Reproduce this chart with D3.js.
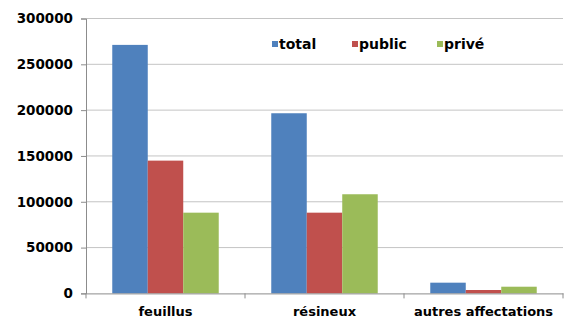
<!DOCTYPE html>
<html>
<head>
<meta charset="utf-8">
<script src="https://cdn.jsdelivr.net/npm/d3@7"></script>
<style>
  body { margin: 0; background: #fff; }
  text { font-family: "DejaVu Sans", sans-serif; font-weight: bold; fill: #000; }
</style>
</head>
<body>
<div id="chart"></div>
<script>
const categories = ["feuillus", "résineux", "autres affectations"];
const seriesNames = ["total", "public", "privé"];
const total = [271200, 196600, 11700];
const publicVals = [144900, 88100, 3700];
const prive = [88100, 108200, 7300];
const yTicks = [0, 50000, 100000, 150000, 200000, 250000, 300000];
const colors = ["#4F81BD", "#C0504D", "#9BBB59"];

const width = 566, height = 318;
const margin = { top: 18.5, right: 3, bottom: 24.6, left: 86 };

const svg = d3.select("#chart").append("svg")
  .attr("width", width)
  .attr("height", height);

const x = d3.scaleBand()
  .domain(categories)
  .range([margin.left, width - margin.right])
  .paddingInner(0).paddingOuter(0);

const xs = d3.scaleBand()
  .domain(seriesNames)
  .range([0, x.bandwidth()])
  .paddingInner(0).paddingOuter(0.74);

const y = d3.scaleLinear()
  .domain([0, 300000])
  .range([height - margin.bottom, margin.top]);

// gridlines
svg.append("g")
  .selectAll("line")
  .data(yTicks.slice(1))
  .join("line")
  .attr("x1", margin.left).attr("x2", width - margin.right)
  .attr("y1", d => y(d)).attr("y2", d => y(d))
  .attr("stroke", "#c4c4c4")
  .attr("stroke-width", 1);

const data = categories.map((c, i) => ({
  cat: c,
  vals: [total[i], publicVals[i], prive[i]]
}));

const groups = svg.append("g")
  .selectAll("g")
  .data(data)
  .join("g")
  .attr("transform", d => `translate(${x(d.cat)},0)`);

groups.selectAll("rect")
  .data(d => d.vals.map((v, j) => ({ key: seriesNames[j], v: v, j: j })))
  .join("rect")
  .attr("x", d => xs(d.key))
  .attr("width", xs.bandwidth())
  .attr("y", d => y(d.v))
  .attr("height", d => y(0) - y(d.v))
  .attr("fill", d => colors[d.j]);

// y axis
const yAxis = svg.append("g")
  .attr("transform", `translate(${margin.left},0)`)
  .call(d3.axisLeft(y).tickValues(yTicks).tickFormat(d3.format("d")).tickSize(5).tickPadding(8));
yAxis.select(".domain").attr("stroke", "#8c8c8c");
yAxis.selectAll(".tick line").attr("stroke", "#8c8c8c");
yAxis.selectAll("text")
  .style("font-size", "13.5px")
  .style("font-family", "'DejaVu Sans', sans-serif")
  .style("font-weight", "bold");

// x axis
const xAxis = svg.append("g")
  .attr("transform", `translate(0,${y(0)})`)
  .call(d3.axisBottom(x).tickSize(0).tickPadding(13));
xAxis.select(".domain").attr("stroke", "#8c8c8c");
xAxis.selectAll("text")
  .style("font-size", "13px")
  .style("font-family", "'DejaVu Sans', sans-serif")
  .style("font-weight", "bold");

// category separator ticks
const sepX = categories.map(c => x(c)).concat([x(categories[categories.length - 1]) + x.bandwidth()]);
svg.append("g")
  .selectAll("line")
  .data(sepX)
  .join("line")
  .attr("x1", d => d).attr("x2", d => d)
  .attr("y1", y(0)).attr("y2", y(0) + 5)
  .attr("stroke", "#8c8c8c");

// legend
const legendX = [272, 352, 437];
const legend = svg.append("g")
  .selectAll("g")
  .data(seriesNames)
  .join("g")
  .attr("transform", (d, i) => `translate(${legendX[i]},41)`);
legend.append("rect")
  .attr("width", 6).attr("height", 6)
  .attr("fill", (d, i) => colors[i]);
legend.append("text")
  .attr("x", 7).attr("y", 7.5)
  .style("font-size", "14px")
  .text(d => d);
</script>
</body>
</html>
